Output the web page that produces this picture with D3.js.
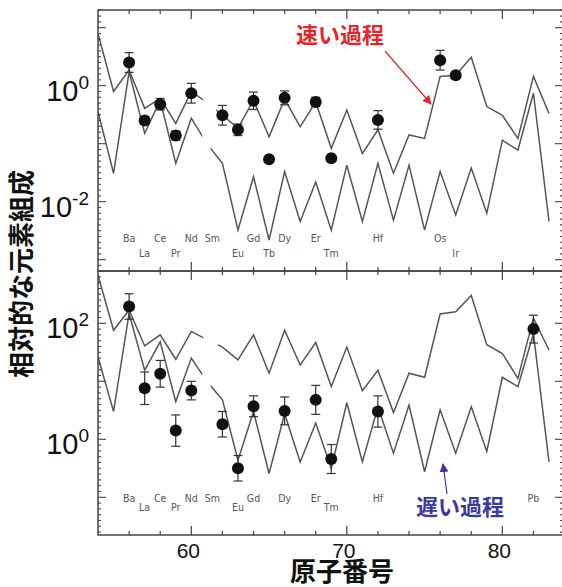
<!DOCTYPE html>
<html>
<head>
<meta charset="utf-8">
<script src="https://cdn.jsdelivr.net/npm/d3@7"></script>
<style>
body { margin: 0; background: #fff; }
svg { display: block; }
</style>
</head>
<body>
<script>
var width = 562,
    height = 587;

// atomic numbers Xe(54) .. Bi(83), values are log10 of relative abundance
var atomicNumbers = d3.range(54, 84);

var upperTop = [0.90, -0.10, 0.27, -0.39, -0.22, -0.65, -0.10, -0.29, -0.51, -0.73,
                -0.25, -0.88, -0.23, -0.71, -0.28, -1.08, -0.42, -1.17, -0.76, -1.51,
                -0.85, -0.91, 0.16, 0.18, 0.49, -0.36, -0.51, -0.91, 0.16, -0.48];
var lowerTop = [-0.45, -1.51, 0.24, -0.82, -0.25, -1.34, -0.56, -1.00, -1.34, -2.49,
                -1.57, -2.66, -1.48, -2.34, -1.66, -2.49, -1.37, -2.34, -1.34, -2.32,
                -1.37, -2.49, -1.48, -2.23, -1.42, -2.20, -0.94, -1.11, -0.13, -2.34];
var upperBottom = [2.83, 1.88, 2.23, 1.61, 1.80, 1.38, 1.86, 1.72, 1.59, 1.37,
                   1.80, 1.14, 1.88, 1.28, 1.67, 0.91, 1.59, 0.84, 1.19, 0.46,
                   1.14, 1.07, 2.16, 2.20, 2.48, 1.63, 1.48, 1.05, 2.09, 1.54];
var lowerBottom = [1.42, 0.48, 2.17, 1.19, 1.68, 0.65, 1.40, 1.00, 0.68, -0.36,
                   0.48, -0.59, 0.44, -0.39, 0.28, -0.50, 0.63, -0.39, 0.56, -0.24,
                   0.59, -0.56, 0.51, -0.24, 0.56, -0.21, 1.07, 0.91, 1.82, -0.39];

// observed stars
var topElements = ["Ba", "La", "Ce", "Pr", "Nd", "Sm", "Eu", "Gd", "Tb", "Dy", "Er", "Tm", "Hf", "Os", "Ir"];
var topZ        = [56, 57, 58, 59, 60, 62, 63, 64, 65, 66, 68, 69, 72, 76, 77];
var topValues   = [0.40, -0.60, -0.32, -0.86, -0.13, -0.51, -0.76, -0.26, -1.27, -0.21, -0.28, -1.25, -0.59, 0.44, 0.18];
var topErrors   = [0.17, 0.07, 0.10, 0.08, 0.17, 0.17, 0.10, 0.15, 0, 0.12, 0.08, 0, 0.16, 0.17, 0.06];

var bottomElements = ["Ba", "La", "Ce", "Pr", "Nd", "Sm", "Eu", "Gd", "Dy", "Er", "Tm", "Hf", "Pb"];
var bottomZ        = [56, 57, 58, 59, 60, 62, 63, 64, 66, 68, 69, 72, 82];
var bottomValues   = [2.29, 0.88, 1.13, 0.15, 0.84, 0.26, -0.50, 0.57, 0.49, 0.68, -0.34, 0.48, 1.90];
var bottomErrors   = [0.22, 0.28, 0.23, 0.27, 0.16, 0.22, 0.22, 0.18, 0.24, 0.25, 0.25, 0.27, 0.24];

// element name labels (row 1 / row 2)
var topLabelsRow1 = ["Ba", "Ce", "Nd", "Sm", "Gd", "Dy", "Er", "Hf", "Os"];
var topLabelsRow2 = ["La", "Pr", "Eu", "Tb", "Tm", "Ir"];
var bottomLabelsRow1 = ["Ba", "Ce", "Nd", "Sm", "Gd", "Dy", "Er", "Hf", "Pb"];
var bottomLabelsRow2 = ["La", "Pr", "Eu", "Tm"];
var elementZ = {Ba: 56, La: 57, Ce: 58, Pr: 59, Nd: 60, Sm: 62, Eu: 63, Gd: 64, Tb: 65,
                Dy: 66, Er: 68, Tm: 69, Hf: 72, Os: 76, Ir: 77, Pb: 82};

var xTicks = [60, 70, 80];
var topYLabels = [0, -2];
var bottomYLabels = [2, 0];

var left = 98, right = 563;
var x = d3.scaleLinear().domain([54, 83.9]).range([left, right]);

var svg = d3.select("body").append("svg")
    .attr("width", width)
    .attr("height", height);

var defs = svg.append("defs");
function marker(id, color) {
    defs.append("marker")
        .attr("id", id)
        .attr("viewBox", "0 0 10 10")
        .attr("refX", 9).attr("refY", 5)
        .attr("markerWidth", 9).attr("markerHeight", 9)
        .attr("markerUnits", "userSpaceOnUse")
        .attr("orient", "auto")
      .append("path")
        .attr("d", "M0,0 L10,5 L0,10 z")
        .attr("fill", color);
}
marker("arrowRed", "#e3262b");
marker("arrowBlue", "#3a3a9e");

var panels = [
    {top: 10, bottom: 271, lo: -3.195, hi: 1.305,
     lines: [upperTop, lowerTop], gaps: [[60.76, 61.6], [60.7, 61.25]],
     el: topElements, z: topZ, v: topValues, e: topErrors,
     row1: topLabelsRow1, row2: topLabelsRow2, rowY: [242, 257], yLabels: topYLabels},
    {top: 271, bottom: 535, lo: -1.65, hi: 2.902,
     lines: [upperBottom, lowerBottom], gaps: [[60.76, 61.7], [60.7, 61.25]],
     el: bottomElements, z: bottomZ, v: bottomValues, e: bottomErrors,
     row1: bottomLabelsRow1, row2: bottomLabelsRow2, rowY: [502, 511], yLabels: bottomYLabels}
];

panels.forEach(function(p, pi) {
    var y = d3.scaleLog()
        .domain([Math.pow(10, p.lo), Math.pow(10, p.hi)])
        .range([p.bottom, p.top]);
    var g = svg.append("g");

    // model lines, with the Pm gap cut out
    p.lines.forEach(function(vals, li) {
        var gap = p.gaps[li];
        var cid = "clip" + pi + "_" + li;
        var cp = defs.append("clipPath").attr("id", cid);
        cp.append("rect").attr("x", left).attr("y", p.top)
            .attr("width", x(gap[0]) - left).attr("height", p.bottom - p.top);
        cp.append("rect").attr("x", x(gap[1])).attr("y", p.top)
            .attr("width", right - x(gap[1])).attr("height", p.bottom - p.top);

        var line = d3.line()
            .x(function(d, i) { return x(atomicNumbers[i]); })
            .y(function(d) { return y(Math.pow(10, d)); });

        g.append("path")
            .datum(vals)
            .attr("clip-path", "url(#" + cid + ")")
            .attr("d", line)
            .attr("fill", "none")
            .attr("stroke", "#555")
            .attr("stroke-width", 1.5)
            .attr("stroke-linejoin", "miter");
    });

    // error bars
    p.z.forEach(function(zz, i) {
        if (!p.e[i]) return;
        var cx = x(zz),
            y1 = y(Math.pow(10, p.v[i] + p.e[i])),
            y2 = y(Math.pow(10, p.v[i] - p.e[i]));
        g.append("line").attr("x1", cx).attr("x2", cx).attr("y1", y1).attr("y2", y2)
            .attr("stroke", "#333").attr("stroke-width", 1.2);
        [y1, y2].forEach(function(yy) {
            g.append("line").attr("x1", cx - 4.5).attr("x2", cx + 4.5).attr("y1", yy).attr("y2", yy)
                .attr("stroke", "#333").attr("stroke-width", 1.2);
        });
    });

    // data points
    g.selectAll("circle.pt")
        .data(p.z)
        .enter().append("circle")
        .attr("class", "pt")
        .attr("cx", function(d) { return x(d); })
        .attr("cy", function(d, i) { return y(Math.pow(10, p.v[i])); })
        .attr("r", 6)
        .attr("fill", "#111");

    // element names
    [p.row1, p.row2].forEach(function(row, ri) {
        g.selectAll("text.el" + ri)
            .data(row)
            .enter().append("text")
            .attr("class", "el" + ri)
            .attr("x", function(d) { return x(elementZ[d]) + (d === "Sm" ? -10 : 0); })
            .attr("y", p.rowY[ri])
            .attr("text-anchor", "middle")
            .style("font-family", "'Liberation Sans Narrow', 'DejaVu Sans Condensed', sans-serif")
            .style("font-size", "10.5px")
            .style("fill", "#555")
            .text(function(d) { return d; });
    });

    // frame
    g.append("rect")
        .attr("x", left).attr("y", p.top)
        .attr("width", right - left).attr("height", p.bottom - p.top)
        .attr("fill", "none").attr("stroke", "#444").attr("stroke-width", 1.5);

    // x ticks (inward on top and bottom)
    var xt = d3.range(56, 84, 2);
    xt.forEach(function(t) {
        var len = (t % 10 === 0) ? 9 : 4;
        g.append("line").attr("x1", x(t)).attr("x2", x(t))
            .attr("y1", p.bottom).attr("y2", p.bottom - len)
            .attr("stroke", "#444").attr("stroke-width", 1.2);
        g.append("line").attr("x1", x(t)).attr("x2", x(t))
            .attr("y1", p.top).attr("y2", p.top + len)
            .attr("stroke", "#444").attr("stroke-width", 1.2);
    });

    // y ticks (inward on left and right)
    var yt = d3.range(Math.ceil(p.lo * 10), Math.floor(p.hi * 10) + 1).map(function(k) { return k / 10; });
    yt.forEach(function(t) {
        var major = Math.abs(t - Math.round(t)) < 1e-6;
        var len = major ? 8 : 3;
        var yy = y(Math.pow(10, t));
        g.append("line").attr("x1", left).attr("x2", left + len).attr("y1", yy).attr("y2", yy)
            .attr("stroke", "#444").attr("stroke-width", 1.1);
        g.append("line").attr("x1", right).attr("x2", right - len).attr("y1", yy).attr("y2", yy)
            .attr("stroke", "#444").attr("stroke-width", 1.1);
    });

    // y tick labels 10^n
    p.yLabels.forEach(function(k) {
        var t = g.append("text")
            .attr("x", 89)
            .attr("y", y(Math.pow(10, k)) + 15)
            .attr("text-anchor", "end")
            .style("font-family", "'Liberation Sans', Arial, sans-serif")
            .style("font-size", "29px")
            .style("fill", "#111")
            .text("10");
        t.append("tspan")
            .attr("dy", -12)
            .style("font-size", "19px")
            .text(k);
    });
});

// x tick labels
svg.selectAll("text.xt")
    .data(xTicks)
    .enter().append("text")
    .attr("class", "xt")
    .attr("x", function(d) { return x(d) - 3; })
    .attr("y", 558)
    .attr("text-anchor", "middle")
    .style("font-family", "'Liberation Sans', Arial, sans-serif")
    .style("font-size", "21px")
    .style("fill", "#111")
    .text(function(d) { return d; });

// axis titles
svg.append("text")
    .attr("x", 342).attr("y", 581)
    .attr("text-anchor", "middle")
    .style("font-family", "'Noto Sans CJK JP', sans-serif")
    .style("font-size", "26px")
    .style("font-weight", "bold")
    .style("fill", "#111")
    .text("原子番号");

svg.append("text")
    .attr("transform", "translate(31,274) rotate(-90)")
    .attr("text-anchor", "middle")
    .style("font-family", "'Noto Sans CJK JP', sans-serif")
    .style("font-size", "26px")
    .style("font-weight", "bold")
    .style("fill", "#111")
    .text("相対的な元素組成");

// annotations
svg.append("text")
    .attr("x", 340).attr("y", 43)
    .attr("text-anchor", "middle")
    .style("font-family", "'Noto Sans CJK JP', sans-serif")
    .style("font-size", "22px")
    .style("font-weight", "bold")
    .style("fill", "#e3262b")
    .text("速い過程");
svg.append("line")
    .attr("x1", 385).attr("y1", 51).attr("x2", 431).attr("y2", 104)
    .attr("stroke", "#e3262b").attr("stroke-width", 1.2)
    .attr("marker-end", "url(#arrowRed)");

svg.append("text")
    .attr("x", 460).attr("y", 515)
    .attr("text-anchor", "middle")
    .style("font-family", "'Noto Sans CJK JP', sans-serif")
    .style("font-size", "22px")
    .style("font-weight", "bold")
    .style("fill", "#3a3a9e")
    .text("遅い過程");
svg.append("line")
    .attr("x1", 447).attr("y1", 494).attr("x2", 443).attr("y2", 464)
    .attr("stroke", "#3a3a9e").attr("stroke-width", 1.2)
    .attr("marker-end", "url(#arrowBlue)");
</script>
</body>
</html>
